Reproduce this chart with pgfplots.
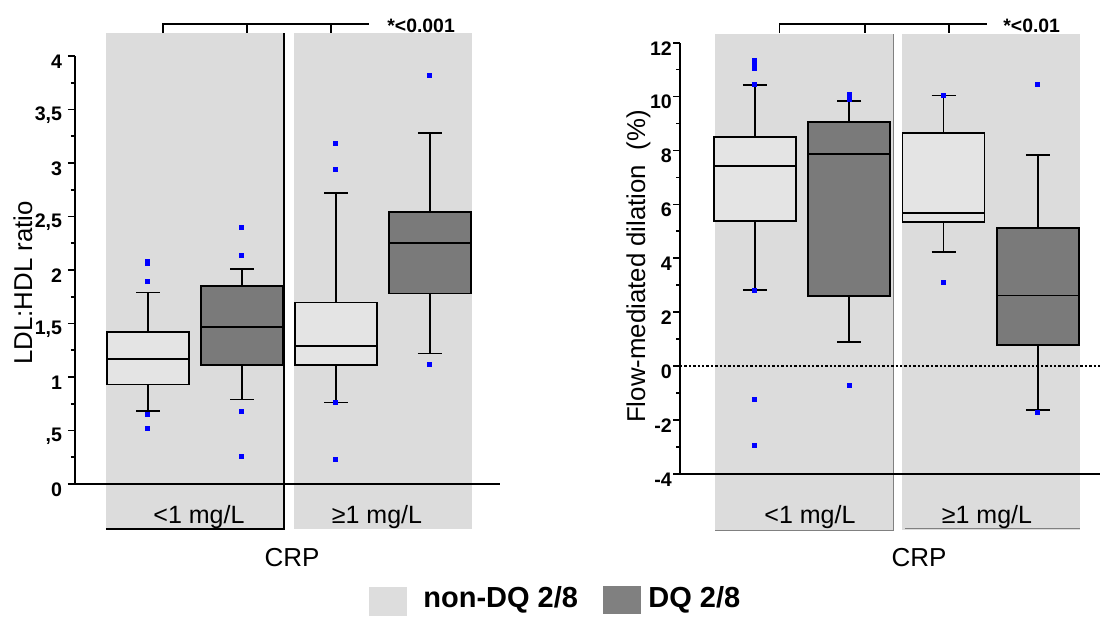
\documentclass[border=0pt]{standalone}
\usepackage{fontspec}
\setmainfont{Liberation Sans}
\usepackage{pgfplots}
\pgfplotsset{compat=1.18}
\usepgfplotslibrary{statistics}

\definecolor{panel}{HTML}{DCDCDC}
\definecolor{boxlight}{HTML}{E4E4E4}
\definecolor{boxdark}{HTML}{7A7A7A}
\definecolor{leglight}{HTML}{DDDDDD}
\definecolor{legdark}{HTML}{808080}

\newcommand{\tickfont}{\bfseries\fontsize{9.8}{10}\selectfont}

\pgfplotsset{
  crpaxis/.style={
    scale only axis, clip=false, axis on top,
    axis x line=bottom, axis y line=left,
    axis line style={line width=1pt,-},
    x axis line style={shorten <=-3.5pt},
    xtick=\empty,
    minor y tick num=1,
    tick align=outside,
    major tick length=3.5pt, minor tick length=2pt,
    tick style={line width=0.8pt, black},
    yticklabel style={font=\tickfont, inner sep=0pt, yshift=-2.8pt},
  },
  bx/.style={draw=black, line width=0.85pt, fill=#1,
    boxplot/draw direction=y,
    boxplot/every box/.style={draw=black, line width=0.85pt, fill=#1},
    boxplot/every whisker/.style={draw=black, line width=0.8pt},
    boxplot/every median/.style={draw=black, line width=0.85pt},
    mark=square*, mark options={draw=blue, fill=blue, mark size=1pt, line width=0pt}},
}

\begin{document}
\begin{tikzpicture}
\path[use as bounding box] (0,0) rectangle (550pt,309pt);

% ---------- left panel: LDL:HDL ratio ----------
\begin{axis}[crpaxis,
  at={(37.5pt,67pt)}, anchor=south west,
  width=212.5pt, height=214pt,
  xmin=0.2234, xmax=4.745, ymin=0, ymax=4,
  ytick={0,0.5,1,1.5,2,2.5,3,3.5,4},
  yticklabels={0,{,5},1,{1,5},2,{2,5},3,{3,5},4},
  yticklabel style={xshift=-2.8pt},
]
\fill[panel] (axis cs:0.553,-0.42) rectangle (axis cs:2.447,4.215);
\fill[panel] (axis cs:2.553,-0.42) rectangle (axis cs:4.447,4.215);
\draw[line width=0.6pt] (axis cs:0.553,-0.42) -- (axis cs:2.447,-0.42) -- (axis cs:2.447,4.215);

\addplot[bx=boxlight, boxplot prepared={draw position=1, lower whisker=0.68, lower quartile=0.93,
  median=1.17, upper quartile=1.42, upper whisker=1.79, box extend=0.872, whisker extend=0.255}]
  coordinates {(0,2.08) (0,2.06) (0,1.89) (0,0.65) (0,0.52)};
\addplot[bx=boxdark, boxplot prepared={draw position=2, lower whisker=0.79, lower quartile=1.11,
  median=1.47, upper quartile=1.85, upper whisker=2.01, box extend=0.872, whisker extend=0.255}]
  coordinates {(0,2.40) (0,2.14) (0,0.68) (0,0.26)};
\addplot[bx=boxlight, boxplot prepared={draw position=3, lower whisker=0.76, lower quartile=1.11,
  median=1.29, upper quartile=1.695, upper whisker=2.72, box extend=0.872, whisker extend=0.255}]
  coordinates {(0,3.18) (0,2.94) (0,0.76) (0,0.23)};
\addplot[bx=boxdark, boxplot prepared={draw position=4, lower whisker=1.22, lower quartile=1.78,
  median=2.25, upper quartile=2.545, upper whisker=3.28, box extend=0.872, whisker extend=0.255}]
  coordinates {(0,3.82) (0,1.12)};
\end{axis}

% ---------- right panel: flow-mediated dilation ----------
\begin{axis}[crpaxis,
  at={(340pt,72.15pt)}, anchor=south west,
  width=210pt, height=215.5pt,
  xmin=0.2047, xmax=4.659, ymin=-4, ymax=12,
  ytick={-4,-2,0,2,4,6,8,10,12},
  yticklabels={-4,-2,0,2,4,6,8,10,12},
  yticklabel style={xshift=-0.4pt},
]
\fill[panel] (axis cs:0.576,-6.09) rectangle (axis cs:2.464,12.34);
\fill[panel] (axis cs:2.559,-6.09) rectangle (axis cs:4.447,12.34);
\draw[line width=0.5pt, gray] (axis cs:0.576,-6.09) -- (axis cs:2.464,-6.09) -- (axis cs:2.464,12.34);
\draw[line width=0.5pt, gray] (axis cs:2.59,-6.05) -- (axis cs:4.447,-6.05);
\draw[line width=1.2pt, densely dotted] (axis cs:0.2047,0) -- (axis cs:4.659,0);

\addplot[bx=boxlight, boxplot prepared={draw position=1, lower whisker=2.83, lower quartile=5.39,
  median=7.43, upper quartile=8.51, upper whisker=10.43, box extend=0.87, whisker extend=0.255}]
  coordinates {(0,11.34) (0,11.19) (0,11.03) (0,10.43) (0,2.80) (0,-1.24) (0,-2.96)};
\addplot[bx=boxdark, boxplot prepared={draw position=2, lower whisker=0.89, lower quartile=2.60,
  median=7.88, upper quartile=9.05, upper whisker=9.83, box extend=0.87, whisker extend=0.255}]
  coordinates {(0,10.09) (0,9.89) (0,-0.73)};
\addplot[bx=boxlight, boxplot prepared={draw position=3, lower whisker=4.22, lower quartile=5.34,
  median=5.67, upper quartile=8.66, upper whisker=10.04, box extend=0.87, whisker extend=0.255}]
  coordinates {(0,10.05) (0,3.11)};
\addplot[bx=boxdark, boxplot prepared={draw position=4, lower whisker=-1.64, lower quartile=0.77,
  median=2.62, upper quartile=5.11, upper whisker=7.83, box extend=0.87, whisker extend=0.255}]
  coordinates {(0,10.43) (0,-1.72)};
\end{axis}

% ---------- annotations (pixel units, y downwards) ----------
\begin{scope}[x=0.5pt, y=-0.5pt, shift={(0pt,309pt)}]
  % significance brackets
  \draw[line width=0.65pt] (163,33) -- (163,24) -- (369,24) (247,24) -- (247,33) (331,24) -- (331,33);
  \node[anchor=base west, inner sep=0pt, font=\bfseries\fontsize{9.7}{11}\selectfont] at (387,32) {*<0.001};
  \draw[line width=0.65pt] (779.7,33) -- (779.7,24) -- (986.7,24) (865,24) -- (865,33) (949,24) -- (949,33);
  \node[anchor=base west, inner sep=0pt, font=\bfseries\fontsize{9.7}{11}\selectfont] at (1003,32) {*<0.01};

  % axis titles
  \node[rotate=90, anchor=base, inner sep=0pt, font=\fontsize{12.9}{14}\selectfont] at (32,283) {LDL:HDL ratio};
  \node[rotate=90, anchor=base, inner sep=0pt, font=\fontsize{12.9}{14}\selectfont] at (645,266.5) {Flow-mediated dilation~~(\%)};

  % category labels
  \begin{scope}[every node/.style={anchor=base, inner sep=0pt, font=\fontsize{12.5}{14}\selectfont}]
    \node at (199,523) {<1 mg/L};
    \node at (377,523) {≥1 mg/L};
    \node at (810,523) {<1 mg/L};
    \node at (987,523) {≥1 mg/L};
  \end{scope}
  \node[anchor=base, inner sep=0pt, font=\fontsize{13}{15}\selectfont] at (292,566.7) {CRP};
  \node[anchor=base, inner sep=0pt, font=\fontsize{13}{15}\selectfont] at (919,566.7) {CRP};

  % legend
  \fill[leglight] (369,587) rectangle (407,616);
  \fill[legdark] (603,586) rectangle (641,614);
  \node[anchor=base west, inner sep=0pt, font=\bfseries\fontsize{14.5}{16}\selectfont] at (423,607) {non-DQ 2/8};
  \node[anchor=base west, inner sep=0pt, font=\bfseries\fontsize{14.5}{16}\selectfont] at (648,607) {DQ 2/8};
\end{scope}
\end{tikzpicture}
\end{document}
